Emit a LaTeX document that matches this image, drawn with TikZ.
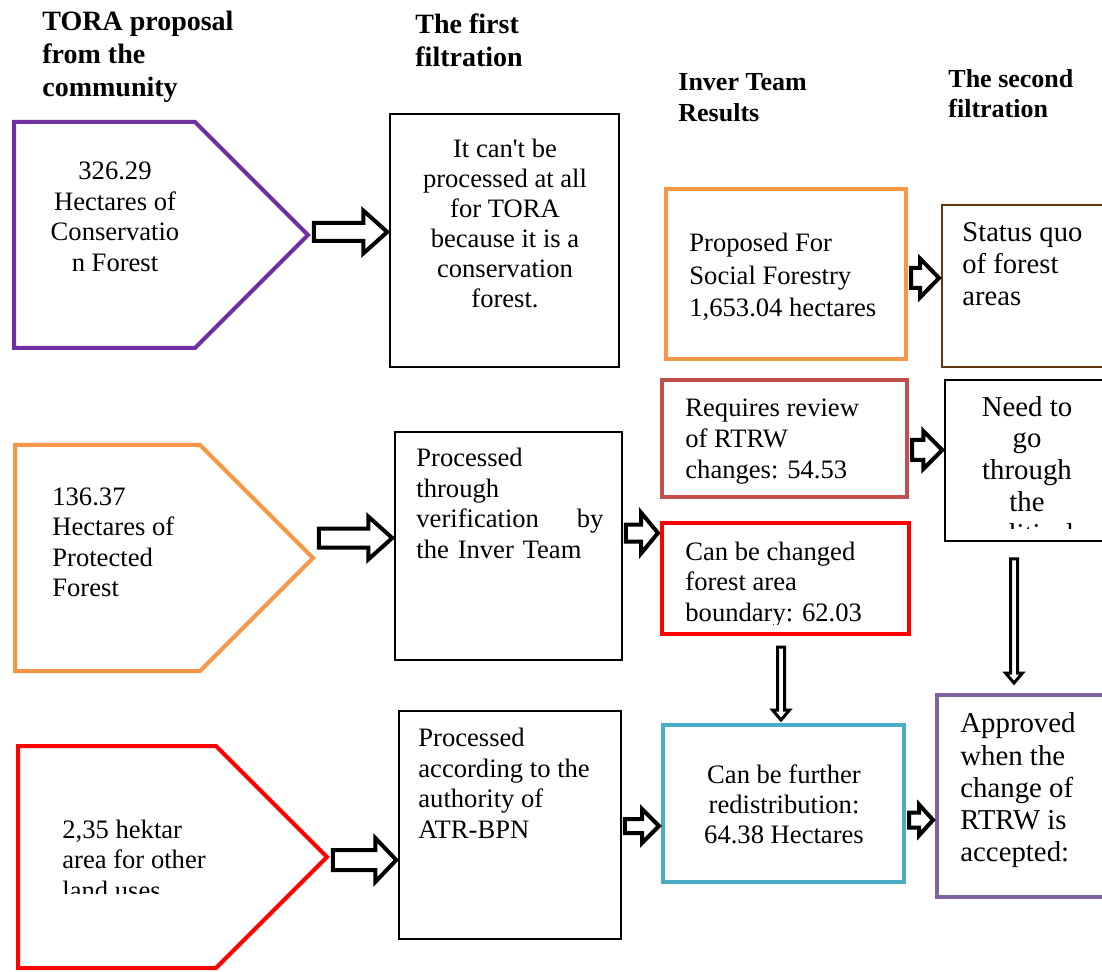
\documentclass[tikz,border=0pt]{standalone}
\usepackage{fontspec}
\setmainfont{Liberation Serif}
\usetikzlibrary{shapes.symbols, positioning, calc, fit}

\definecolor{conspurple}{HTML}{7030A0}
\definecolor{protorange}{HTML}{F79646}
\definecolor{landred}{HTML}{FF0000}
\definecolor{quobrown}{HTML}{603913}
\definecolor{rtrwred}{HTML}{C0504D}
\definecolor{redistblue}{HTML}{4BACC6}
\definecolor{approvpurple}{HTML}{8064A2}

\newcommand{\fsz}[2]{\fontsize{#1pt}{#2pt}\selectfont}

% hollow block arrow: from, to, y, body half, head half, head length
\newcommand{\hollowright}[6]{%
  \draw[blockarrow]
    ($(#1 |- 0,#3)+(3,-#4)$) -- ($(#2 |- 0,#3)+(-2-#6,-#4)$) -- ($(#2 |- 0,#3)+(-2-#6,-#5)$)
    -- ($(#2 |- 0,#3)+(-2,0)$) -- ($(#2 |- 0,#3)+(-2-#6,#5)$) -- ($(#2 |- 0,#3)+(-2-#6,#4)$)
    -- ($(#1 |- 0,#3)+(3,#4)$) -- cycle;}
% narrow downward arrow: from, to, x, start gap, end gap
\newcommand{\hollowdown}[5]{%
  \draw[blockarrow, line width=1.5pt]
    ($(#3,0 |- #1)+(-3.5,#4)$) -- ($(#3,0 |- #2)+(-3.5,-#5-10)$) -- ($(#3,0 |- #2)+(-8.5,-#5-10)$)
    -- ($(#3,0 |- #2)+(0,-#5)$) -- ($(#3,0 |- #2)+(8.5,-#5-10)$) -- ($(#3,0 |- #2)+(3.5,-#5-10)$)
    -- ($(#3,0 |- #1)+(3.5,#4)$) -- cycle;}

\begin{document}
\begin{tikzpicture}[x=0.5pt, y=-0.5pt]
    \tikzstyle{colhead} = [font=\bfseries\fsz{14}{16.5}, align=left, anchor=base west, inner sep=0]
    \tikzstyle{boxtext} = [font=\fsz{13.3}{15.25}, align=left, anchor=base west, inner sep=0]
    \tikzstyle{box} = [draw=black, line width=0.75pt, inner sep=0]
    \tikzstyle{cbox} = [box, line width=2pt]
    \tikzstyle{pent} = [signal, signal to=east, signal pointer angle=90, line width=2pt, inner sep=0, anchor=west]
    \tikzstyle{blockarrow} = [draw=black, line width=2pt, fill=white]

    \useasboundingbox (0,0) rectangle (1102,972);
    \clip (0,0) rectangle (1102,972);

    % column headings (placed at the baseline of their last line)
    \node (hdcommunity) [colhead] at (42,97) {TORA proposal\\from the\\community};
    \node (hdfirst) [colhead] at (415,66.7) {The first\\filtration};
    \node (hdinver) [colhead, font=\bfseries\fsz{13}{15.5}] at (678,121.7) {Inver Team\\Results};
    \node (hdsecond) [colhead, font=\bfseries\fsz{13}{15}] at (948,117.3) {The second\\filtration};

    % proposals from the community
    \node (pentcons) [pent, draw=conspurple, minimum width=147pt, minimum height=113pt] at (12,235) {};
    \node (pentprot) [pent, draw=protorange, minimum width=149pt, minimum height=113pt] at (13,558) {};
    \node (pentland) [pent, draw=landred, minimum width=154.5pt, minimum height=111pt] at (16,857) {};
    \node [boxtext, align=center, anchor=base] at (115,271.5) {326.29\\Hectares of\\Conservatio\\n Forest};
    \node [boxtext] at (52,596.7) {136.37\\Hectares of\\Protected\\Forest};
    \begin{scope}
        \clip (16,746) rectangle (330,893);
        \node [boxtext] at (62,899) {2,35 hektar\\area for other\\land uses};
    \end{scope}

    % first filtration
    \node (noproc) [box, fit={(390,114) (619,367)}] {};
    \node (verif) [box, fit={(395,432) (622,660)}] {};
    \node (atr) [box, fit={(399,711) (621,939)}] {};
    \node [boxtext, align=center, anchor=base, font=\fsz{13.3}{15}] at (505,308)
        {It can\textquotesingle t be\\processed at all\\for TORA\\because it is a\\conservation\\forest.};
    \node [boxtext, text width=93.5pt] at (416,466.7)
        {Processed\\through\\verification\hfill by\\the Inver Team};
    \node [boxtext, font=\fsz{13.3}{15.2}] at (418,838) {Processed\\according to the\\authority of\\ATR-BPN};

    % Inver team results
    \node (propsf) [cbox, draw=protorange, fit={(666,189) (906,359)}] {};
    \node (review) [cbox, draw=rtrwred, fit={(662,380) (907,497)}] {};
    \node (canchg) [cbox, draw=landred, fit={(662,523) (909,634)}] {};
    \node (further) [cbox, draw=redistblue, fit={(663,725) (904,882)}] {};
    \node [boxtext, font=\fsz{13.3}{16.25}] at (689,316.7) {Proposed For\\Social Forestry\\1,653.04 hectares};
    \node [boxtext, font=\fsz{13.3}{15.5}] at (685,478.7) {Requires review\\of RTRW\\changes: 54.53};
    \begin{scope}
        \clip (662,523) rectangle (909,624);
        \node [boxtext, font=\fsz{13.3}{15.4}] at (685,621.6) {Can be changed\\forest area\\boundary: 62.03};
    \end{scope}
    \node [boxtext, align=center, anchor=base, font=\fsz{13.3}{15}] at (784,843.3)
        {Can be further\\redistribution:\\64.38 Hectares};

    % second filtration
    \node (statusquo) [box, draw=quobrown, line width=1pt, fit={(942,205) (1110,367)}] {};
    \node (needgo) [box, fit={(945,380) (1110,541)}] {};
    \node (approved) [cbox, draw=approvpurple, fit={(937,695) (1110,897)}] {};
    \node [boxtext, font=\fsz{14.3}{16}] at (962,305.7) {Status quo\\of forest\\areas};
    \begin{scope}
        \clip (945,380) rectangle (1110,528);
        \node [boxtext, align=center, anchor=base, font=\fsz{14.4}{15.85}] at (1027,543)
            {Need to\\go\\through\\the\\political};
    \end{scope}
    \node [boxtext, font=\fsz{14.4}{16.15}] at (960,861.9) {Approved\\when the\\change of\\RTRW is\\accepted:};

    % arrows
    \hollowright{pentcons.east}{noproc.west}{232}{9}{21.5}{24}
    \hollowright{pentprot.east}{verif.west}{538}{9.5}{21.5}{24}
    \hollowright{pentland.east}{atr.west}{860}{10}{22}{21}
    \hollowright{verif.east}{canchg.west}{533}{8.5}{20.5}{17}
    \hollowright{atr.east}{further.west}{826}{7}{17}{17}
    \hollowright{propsf.east}{statusquo.west}{278}{10}{19.5}{19}
    \hollowright{review.east}{needgo.west}{450}{10}{19}{19}
    \hollowright{further.east}{approved.west}{820}{7.5}{15.5}{14}
    \hollowdown{canchg.south}{further.north}{781}{11}{3}
    \hollowdown{needgo.south}{approved.north}{1014}{17}{10}
\end{tikzpicture}
\end{document}
